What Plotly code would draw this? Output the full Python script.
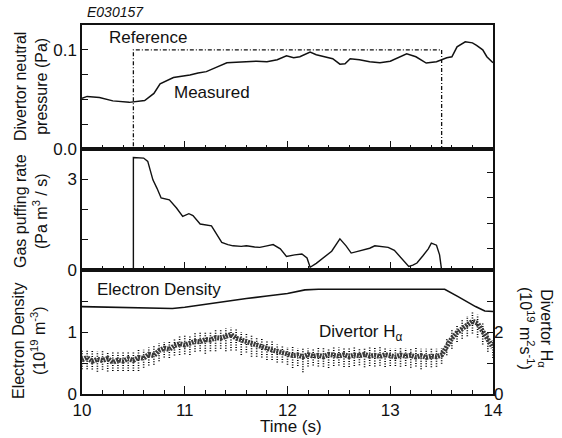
import numpy as np
import plotly.graph_objects as go

# ---------------- data ----------------
# Panel 1: divertor neutral pressure (Pa)
ref_t = [10.0, 10.5, 10.5, 13.5, 13.5]
ref_v = [0.0, 0.0, 0.1, 0.1, 0.0]

meas_t = [10.0, 10.05, 10.17, 10.30, 10.46, 10.52, 10.61, 10.70, 10.76, 10.89, 10.97, 11.05, 11.13,
          11.21, 11.30, 11.41, 11.50, 11.60, 11.70, 11.80, 11.90, 11.99, 12.06, 12.12, 12.22, 12.28,
          12.35, 12.44, 12.51, 12.56, 12.61, 12.70, 12.80, 12.90, 13.0, 13.08, 13.16, 13.25, 13.35,
          13.45, 13.55, 13.60, 13.65, 13.73, 13.80, 13.84, 13.90, 13.94, 14.0]
meas_v = [0.051, 0.053, 0.052, 0.0485, 0.047, 0.048, 0.0488, 0.056, 0.0657, 0.072, 0.073, 0.0747, 0.0765,
          0.078, 0.082, 0.087, 0.0875, 0.088, 0.0885, 0.088, 0.090, 0.094, 0.092, 0.093, 0.0977, 0.095,
          0.093, 0.091, 0.0855, 0.086, 0.091, 0.090, 0.088, 0.087, 0.0885, 0.092, 0.096, 0.093, 0.0866,
          0.088, 0.092, 0.093, 0.103, 0.108, 0.107, 0.1045, 0.100, 0.093, 0.087]

# Panel 2: gas puffing rate (Pa m3/s)
gas_t = [10.0, 10.5, 10.5, 10.56, 10.60, 10.64, 10.69, 10.73, 10.77, 10.85, 10.92, 10.98, 11.04, 11.08,
         11.15, 11.26, 11.31, 11.36, 11.42, 11.47, 11.55, 11.60, 11.68, 11.73, 11.80, 11.86, 11.93,
         11.99, 12.07, 12.14, 12.19, 12.22, 12.28, 12.35, 12.43, 12.51, 12.57, 12.62, 12.68, 12.73,
         12.80, 12.85, 12.92, 12.98, 13.04, 13.08, 13.13, 13.18, 13.22, 13.26, 13.32, 13.37, 13.40,
         13.45, 13.48, 13.50]
gas_v = [0.0, 0.0, 3.72, 3.72, 3.70, 3.59, 2.98, 2.70, 2.38, 2.32, 2.05, 1.77, 1.86, 1.80,
         1.52, 1.46, 1.20, 0.91, 0.84, 0.80, 0.78, 0.80, 0.76, 0.75, 0.80, 0.84, 0.70,
         0.45, 0.50, 0.53, 0.40, 0.09, 0.22, 0.40, 0.62, 1.03, 0.80, 0.56, 0.62, 0.67,
         0.72, 0.80, 0.76, 0.75, 0.65, 0.50, 0.30, 0.12, 0.16, 0.23, 0.48, 0.70, 0.89,
         0.82, 0.50, 0.0]

# Panel 3: electron density (1e19 m-3), left axis
ne_t = [10.0, 10.3, 10.56, 10.88, 11.0, 11.21, 11.4, 11.6, 11.8, 12.0, 12.17, 12.3, 12.62, 13.0,
        13.53, 13.66, 13.83, 13.92, 14.0]
ne_v = [1.41, 1.40, 1.38, 1.38, 1.40, 1.45, 1.50, 1.54, 1.58, 1.62, 1.68, 1.69, 1.69, 1.69,
        1.69, 1.57, 1.41, 1.34, 1.33]

# Panel 3: divertor H-alpha (1e19 m2 s-1), right axis, sampled every 0.05 s
ha_t = np.linspace(10.0, 14.0, 81)
ha_c = [1.10, 1.18, 1.05, 1.12, 1.08, 1.15, 1.02, 1.10, 1.06, 1.14,
        1.08, 1.18, 1.15, 1.28, 1.24, 1.40, 1.48, 1.44, 1.56, 1.62,
        1.58, 1.66, 1.70, 1.68, 1.76, 1.74, 1.82, 1.80, 1.88, 1.92,
        1.80, 1.74, 1.70, 1.62, 1.60, 1.52, 1.48, 1.42, 1.38, 1.32,
        1.28, 1.24, 1.26, 1.20, 1.27, 1.22, 1.25, 1.20, 1.28, 1.24,
        1.22, 1.27, 1.21, 1.26, 1.23, 1.28, 1.22, 1.25, 1.21, 1.27,
        1.24, 1.20, 1.26, 1.22, 1.25, 1.19, 1.24, 1.18, 1.22, 1.20,
        1.26, 1.55, 1.80, 1.98, 2.10, 2.22, 2.35, 2.28, 2.00, 1.72,
        1.50]
ha_up = [0.30, 0.22, 0.34, 0.25, 0.30, 0.20, 0.33, 0.26, 0.28, 0.22,
         0.30, 0.24, 0.28, 0.22, 0.30, 0.24, 0.20, 0.28, 0.22, 0.25,
         0.30, 0.22, 0.26, 0.32, 0.22, 0.28, 0.25, 0.30, 0.24, 0.22,
         0.30, 0.26, 0.24, 0.28, 0.22, 0.26, 0.24, 0.28, 0.22, 0.26,
         0.24, 0.28, 0.22, 0.30, 0.20, 0.26, 0.24, 0.30, 0.20, 0.26,
         0.28, 0.22, 0.30, 0.24, 0.26, 0.20, 0.28, 0.24, 0.30, 0.22,
         0.24, 0.28, 0.22, 0.26, 0.24, 0.30, 0.22, 0.28, 0.24, 0.26,
         0.22, 0.26, 0.30, 0.24, 0.28, 0.30, 0.30, 0.28, 0.30, 0.26,
         0.24]
ha_dn = [0.30, 0.38, 0.26, 0.40, 0.30, 0.42, 0.28, 0.36, 0.32, 0.40,
         0.34, 0.44, 0.30, 0.36, 0.30, 0.34, 0.30, 0.28, 0.32, 0.36,
         0.30, 0.40, 0.34, 0.30, 0.46, 0.36, 0.44, 0.34, 0.50, 0.52,
         0.40, 0.48, 0.36, 0.42, 0.40, 0.34, 0.38, 0.32, 0.36, 0.30,
         0.34, 0.40, 0.36, 0.50, 0.38, 0.30, 0.36, 0.32, 0.44, 0.34,
         0.30, 0.40, 0.34, 0.36, 0.30, 0.42, 0.32, 0.36, 0.30, 0.40,
         0.34, 0.30, 0.38, 0.32, 0.40, 0.30, 0.44, 0.30, 0.36, 0.32,
         0.28, 0.30, 0.34, 0.30, 0.32, 0.36, 0.40, 0.46, 0.40, 0.36,
         0.34]

x_ticks = [10, 11, 12, 13, 14]

# ---------------- figure ----------------
FONT = "Liberation Sans, Arial, Helvetica, sans-serif"
BLK = "#111111"

fig = go.Figure()

# Panel 1
fig.add_trace(go.Scatter(x=ref_t, y=ref_v, mode="lines", xaxis="x", yaxis="y",
                         line=dict(color=BLK, width=1.3, dash="4px,2px,1px,2px"), showlegend=False))
fig.add_trace(go.Scatter(x=meas_t, y=meas_v, mode="lines", xaxis="x", yaxis="y",
                         line=dict(color=BLK, width=1.5), showlegend=False))
# Panel 2
fig.add_trace(go.Scatter(x=gas_t, y=gas_v, mode="lines", xaxis="x2", yaxis="y2",
                         line=dict(color=BLK, width=1.4), showlegend=False))
# Panel 3: density
fig.add_trace(go.Scatter(x=ne_t, y=ne_v, mode="lines", xaxis="x3", yaxis="y3",
                         line=dict(color=BLK, width=1.6), showlegend=False))
# Panel 3: H-alpha band (dotted vertical spread + dense core)
seg_x, seg_y = [], []
for t, c, u, d in zip(ha_t, ha_c, ha_up, ha_dn):
    seg_x += [t, t, None]
    seg_y += [c - d, c + u, None]
fig.add_trace(go.Scatter(x=seg_x, y=seg_y, mode="lines", xaxis="x3", yaxis="y5",
                         line=dict(color="#000000", width=1.6, dash="1px,1.5px"), showlegend=False))
fig.add_trace(go.Scatter(x=list(ha_t), y=ha_c, mode="lines", xaxis="x3", yaxis="y5",
                         line=dict(color="#3a3a3a", width=5, dash="2px,1px"), showlegend=False))

d3 = [0.0, 0.336]
d2 = [0.336, 0.664]
d1 = [0.664, 1.0]

def xax(show_labels):
    return dict(range=[10, 14], tickvals=x_ticks, ticks="inside", ticklen=8, tickwidth=1.3,
                tickcolor=BLK, showticklabels=show_labels, showline=True, linecolor=BLK,
                linewidth=1.5, mirror=True, showgrid=False, zeroline=False,
                minor=dict(dtick=0.2, tick0=10, ticks="inside", ticklen=4, tickwidth=1.2,
                           tickcolor=BLK, showgrid=False),
                tickfont=dict(family=FONT, size=17, color=BLK))

def yax(domain, rng, vals, texts, anchor):
    return dict(domain=domain, range=rng, tickvals=vals, ticktext=texts, ticks="inside",
                ticklen=6, tickwidth=1.3, tickcolor=BLK, showline=True, linecolor=BLK,
                linewidth=1.5, mirror=True, showgrid=False, zeroline=False, anchor=anchor,
                tickfont=dict(family=FONT, size=17, color=BLK))

fig.update_layout(
    width=562, height=438,
    margin=dict(l=82, r=69, t=25, b=44),
    paper_bgcolor="white", plot_bgcolor="white",
    showlegend=False,
    xaxis=dict(**xax(False), anchor="y", matches="x3"),
    xaxis2=dict(**xax(False), anchor="y2", matches="x3"),
    xaxis3=dict(**xax(True), anchor="y3"),
    yaxis=yax(d1, [0, 0.125], [0, 0.025, 0.05, 0.075, 0.1], ["0.0", "", "", "", "0.1"], "x"),
    yaxis2=yax(d2, [0, 4], [0, 1, 2, 3], ["0", "", "", "3"], "x2"),
    yaxis3=yax(d3, [0, 2], [0, 0.5, 1, 1.5], ["0", "", "1", ""], "x3"),
    yaxis4=dict(domain=d2, range=[0.12, 4.96], overlaying="y2", side="right", anchor="x2",
                tickvals=[1, 2, 3, 4], ticktext=["", "", "", ""], ticks="inside", ticklen=6,
                tickwidth=1.3, tickcolor=BLK, showline=False, showgrid=False, zeroline=False),
    yaxis5=dict(domain=d3, range=[0, 4], overlaying="y3", side="right", anchor="x3",
                tickvals=[0, 1, 2, 3], ticktext=["0", "", "2", ""], ticks="inside", ticklen=6,
                tickwidth=1.3, tickcolor=BLK, showline=False, showgrid=False, zeroline=False,
                tickfont=dict(family=FONT, size=17, color=BLK)),
)

# dummy trace to activate yaxis4
fig.add_trace(go.Scatter(x=[10], y=[None], xaxis="x2", yaxis="y4", showlegend=False,
                         hoverinfo="skip"))

def ann(text, x, y, size=17, angle=0, italic=False, xanchor="center", yanchor="middle"):
    fig.add_annotation(text=text, x=x, y=y, xref="paper", yref="paper", showarrow=False,
                       textangle=angle, xanchor=xanchor, yanchor=yanchor,
                       font=dict(family=FONT, size=size, color=BLK,
                                 style="italic" if italic else "normal"))

W = 562 - 82 - 69
H = 438 - 25 - 44

def px(xp):
    return (xp - 82) / W

def py(yp):
    return (394 - yp) / H

ann("E030157", px(85), py(12), size=14, italic=True, xanchor="left")
ann("Reference", px(107), py(38), size=17, xanchor="left")
ann("Measured", px(172), py(92), size=17, xanchor="left")
ann("Electron Density", px(95), py(289), size=17, xanchor="left")
ann("Divertor H<sub>α</sub>", px(317), py(333), size=17, xanchor="left")
ann("Time (s)", px(291), py(426), size=17)

ann("Divertor neutral<br>pressure (Pa)", px(31), py(87), size=16, angle=-90)
ann("Gas puffing rate<br>(Pa m<sup>3</sup> / s)", px(31), py(211), size=16, angle=-90)
ann("Electron Density<br>(10<sup>19</sup> m<sup>-3</sup>)", px(29), py(340), size=16, angle=-90)
ann("Divertor H<sub>α</sub><br>(10<sup>19</sup> m<sup>2</sup>s<sup>-1</sup>)", px(536), py(328),
    size=16, angle=90)

fig.write_html("out.html")
